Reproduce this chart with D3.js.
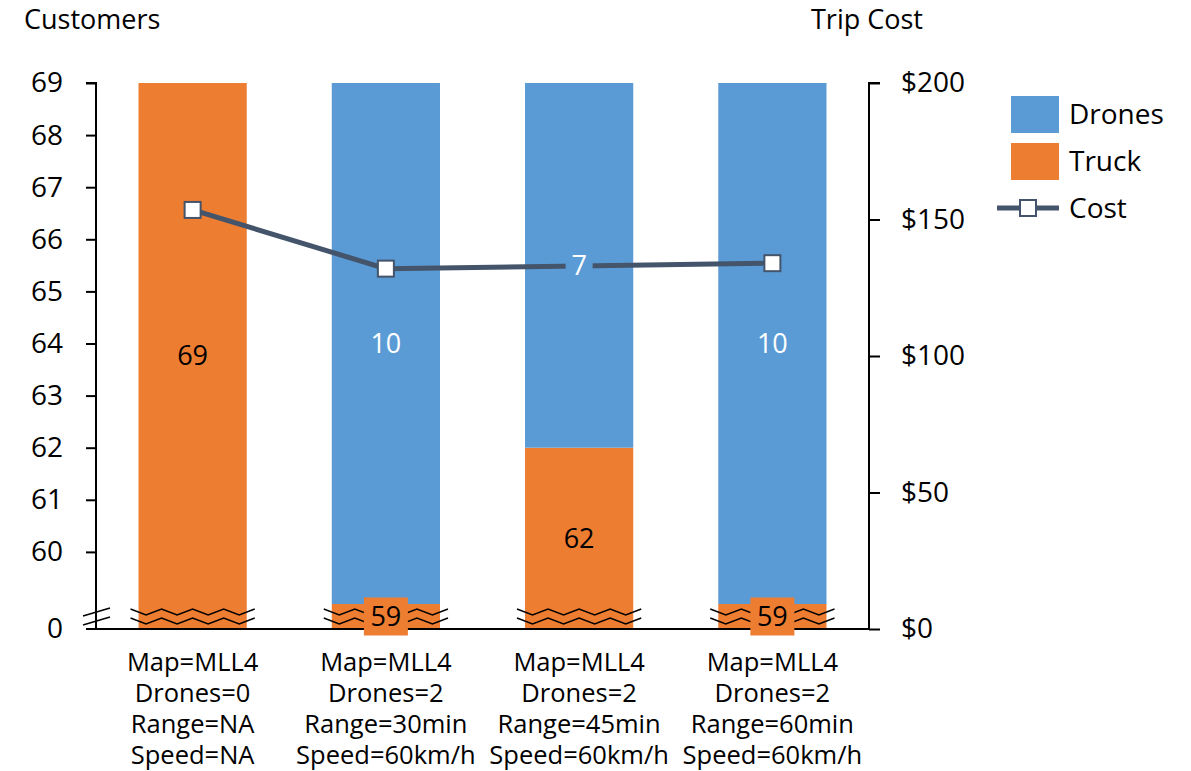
<!DOCTYPE html>
<html>
<head>
<meta charset="utf-8">
<script src="https://cdn.jsdelivr.net/npm/d3@7"></script>
<style>
  body { margin: 0; background: #fff; }
  svg text { font-family: "Open Sans", Lato, sans-serif; fill: #000; }
</style>
</head>
<body>
<svg id="chart" width="1191" height="771"></svg>
<script>
var categories = [
    ["Map=MLL4", "Drones=0", "Range=NA", "Speed=NA"],
    ["Map=MLL4", "Drones=2", "Range=30min", "Speed=60km/h"],
    ["Map=MLL4", "Drones=2", "Range=45min", "Speed=60km/h"],
    ["Map=MLL4", "Drones=2", "Range=60min", "Speed=60km/h"]
];
var truck = [69, 59, 62, 59];
var drones = [0, 10, 7, 10];
var cost = [153.5, 132, 133, 134];
var leftTicks = [60, 61, 62, 63, 64, 65, 66, 67, 68, 69];
var rightTicks = [0, 50, 100, 150, 200];
var axisFloor = 58.52; // broken axis: bottom of the plot shown as "0"

var svg = d3.select("#chart"),
    plotLeft = 96, plotRight = 869, plotTop = 83, plotBottom = 629;

var orange = "#ED7D31", blue = "#5B9BD5", lineColor = "#44546A";

var x = d3.scaleBand().domain(d3.range(categories.length)).range([plotLeft, plotRight]).paddingInner(0.44).paddingOuter(0.22);
var y = d3.scaleLinear().domain([axisFloor, 69]).range([plotBottom, plotTop]);
var y2 = d3.scaleLinear().domain([0, 200]).range([plotBottom, plotTop]);

// titles
svg.append("text").attr("x", 24).attr("y", 29).style("font-size", "27px").text("Customers");
svg.append("text").attr("x", 811).attr("y", 29).style("font-size", "27px").text("Trip Cost");

// bars
var bars = svg.append("g");
truck.forEach(function (t, i) {
    bars.append("rect")
        .attr("x", x(i)).attr("width", x.bandwidth())
        .attr("y", y(t)).attr("height", plotBottom - y(t))
        .attr("fill", orange);
    if (drones[i] > 0) {
        bars.append("rect")
            .attr("x", x(i)).attr("width", x.bandwidth())
            .attr("y", y(t + drones[i])).attr("height", y(t) - y(t + drones[i]))
            .attr("fill", blue);
    }
});

// axes
var gl = svg.append("g").attr("transform", "translate(" + plotLeft + ",0)")
    .call(d3.axisLeft(y).tickValues(leftTicks).tickSize(10).tickPadding(23).tickSizeOuter(0));
gl.select(".domain").attr("d", "M-10," + plotTop + "H0V" + plotBottom);
gl.selectAll("text").style("font-size", "28px");
gl.append("text").attr("x", -33).attr("y", plotBottom).attr("dy", "0.32em")
    .attr("text-anchor", "end").style("font-size", "28px").text("0");

var gr = svg.append("g").attr("transform", "translate(" + plotRight + ",0)")
    .call(d3.axisRight(y2).tickValues(rightTicks).tickSize(11).tickPadding(21).tickSizeOuter(0)
        .tickFormat(function (d) { return "$" + d; }));
gr.select(".domain").attr("d", "M11," + plotTop + "H0V" + plotBottom);
gr.selectAll("text").style("font-size", "28px");

svg.selectAll(".domain, .tick line").attr("stroke", "#000").attr("stroke-width", 2);
svg.append("line").attr("x1", plotLeft - 10).attr("x2", plotRight).attr("y1", plotBottom).attr("y2", plotBottom)
    .attr("stroke", "#000").attr("stroke-width", 2);

// break marks
var breakYs = [612, 621];
var wave = d3.line().curve(d3.curveLinear);
truck.forEach(function (t, i) {
    var x0 = x(i) - 8, x1 = x(i) + x.bandwidth() + 8, n = 8;
    breakYs.forEach(function (by) {
        var pts = d3.range(n + 1).map(function (k) {
            return [x0 + (x1 - x0) * k / n, by + (k % 2 ? 3 : -3)];
        });
        svg.append("path").attr("d", wave(pts)).attr("fill", "none")
            .attr("stroke", "#000").attr("stroke-width", 1.5);
    });
});
breakYs.forEach(function (by) {
    svg.append("line").attr("x1", plotLeft - 13).attr("x2", plotLeft + 14)
        .attr("y1", by + 4).attr("y2", by - 4)
        .attr("stroke", "#000").attr("stroke-width", 1.5);
});

// truck labels
truck.forEach(function (t, i) {
    var cx = x(i) + x.bandwidth() / 2, cy = (plotBottom + y(t)) / 2;
    if (plotBottom - y(t) < 40) {
        svg.append("rect").attr("x", cx - 22).attr("y", cy - 19).attr("width", 44).attr("height", 38)
            .attr("fill", orange);
    }
    svg.append("text").attr("x", cx).attr("y", cy).attr("dy", "0.35em")
        .attr("text-anchor", "middle").style("font-size", "27px").text(t);
});

// cost line
var line = d3.line().x(function (d, i) { return x(i) + x.bandwidth() / 2; }).y(function (d) { return y2(d); });
svg.append("path").datum(cost).attr("d", line).attr("fill", "none")
    .attr("stroke", lineColor).attr("stroke-width", 5);
svg.selectAll(".mk").data(cost).enter().append("rect")
    .attr("x", function (d, i) { return x(i) + x.bandwidth() / 2 - 8; })
    .attr("y", function (d) { return y2(d) - 8; })
    .attr("width", 16).attr("height", 16)
    .attr("fill", "#fff").attr("stroke", lineColor).attr("stroke-width", 2);

// drone labels
drones.forEach(function (d, i) {
    if (d <= 0) return;
    var cx = x(i) + x.bandwidth() / 2, cy = (y(truck[i]) + y(truck[i] + d)) / 2;
    var tw = String(d).length * 15 + 12;
    svg.append("rect").attr("x", cx - tw / 2).attr("y", cy - 17).attr("width", tw).attr("height", 34)
        .attr("fill", blue);
    svg.append("text").attr("x", cx).attr("y", cy).attr("dy", "0.35em")
        .attr("text-anchor", "middle").style("font-size", "27px").style("fill", "#fff").text(d);
});

// category labels
categories.forEach(function (lines, i) {
    var t = svg.append("text").attr("text-anchor", "middle").style("font-size", "25.5px");
    lines.forEach(function (s, k) {
        t.append("tspan").attr("x", x(i) + x.bandwidth() / 2).attr("y", 671 + k * 31).text(s);
    });
});

// legend
var lg = svg.append("g");
[["Drones", blue], ["Truck", orange]].forEach(function (e, k) {
    lg.append("rect").attr("x", 1011).attr("y", 96 + k * 47).attr("width", 48).attr("height", 37).attr("fill", e[1]);
    lg.append("text").attr("x", 1069).attr("y", 114 + k * 47).attr("dy", "0.35em").style("font-size", "28px").text(e[0]);
});
lg.append("line").attr("x1", 997).attr("x2", 1059).attr("y1", 208).attr("y2", 208)
    .attr("stroke", lineColor).attr("stroke-width", 5);
lg.append("rect").attr("x", 1020).attr("y", 200).attr("width", 16).attr("height", 16)
    .attr("fill", "#fff").attr("stroke", lineColor).attr("stroke-width", 2);
lg.append("text").attr("x", 1069).attr("y", 208).attr("dy", "0.35em").style("font-size", "28px").text("Cost");
</script>
</body>
</html>
